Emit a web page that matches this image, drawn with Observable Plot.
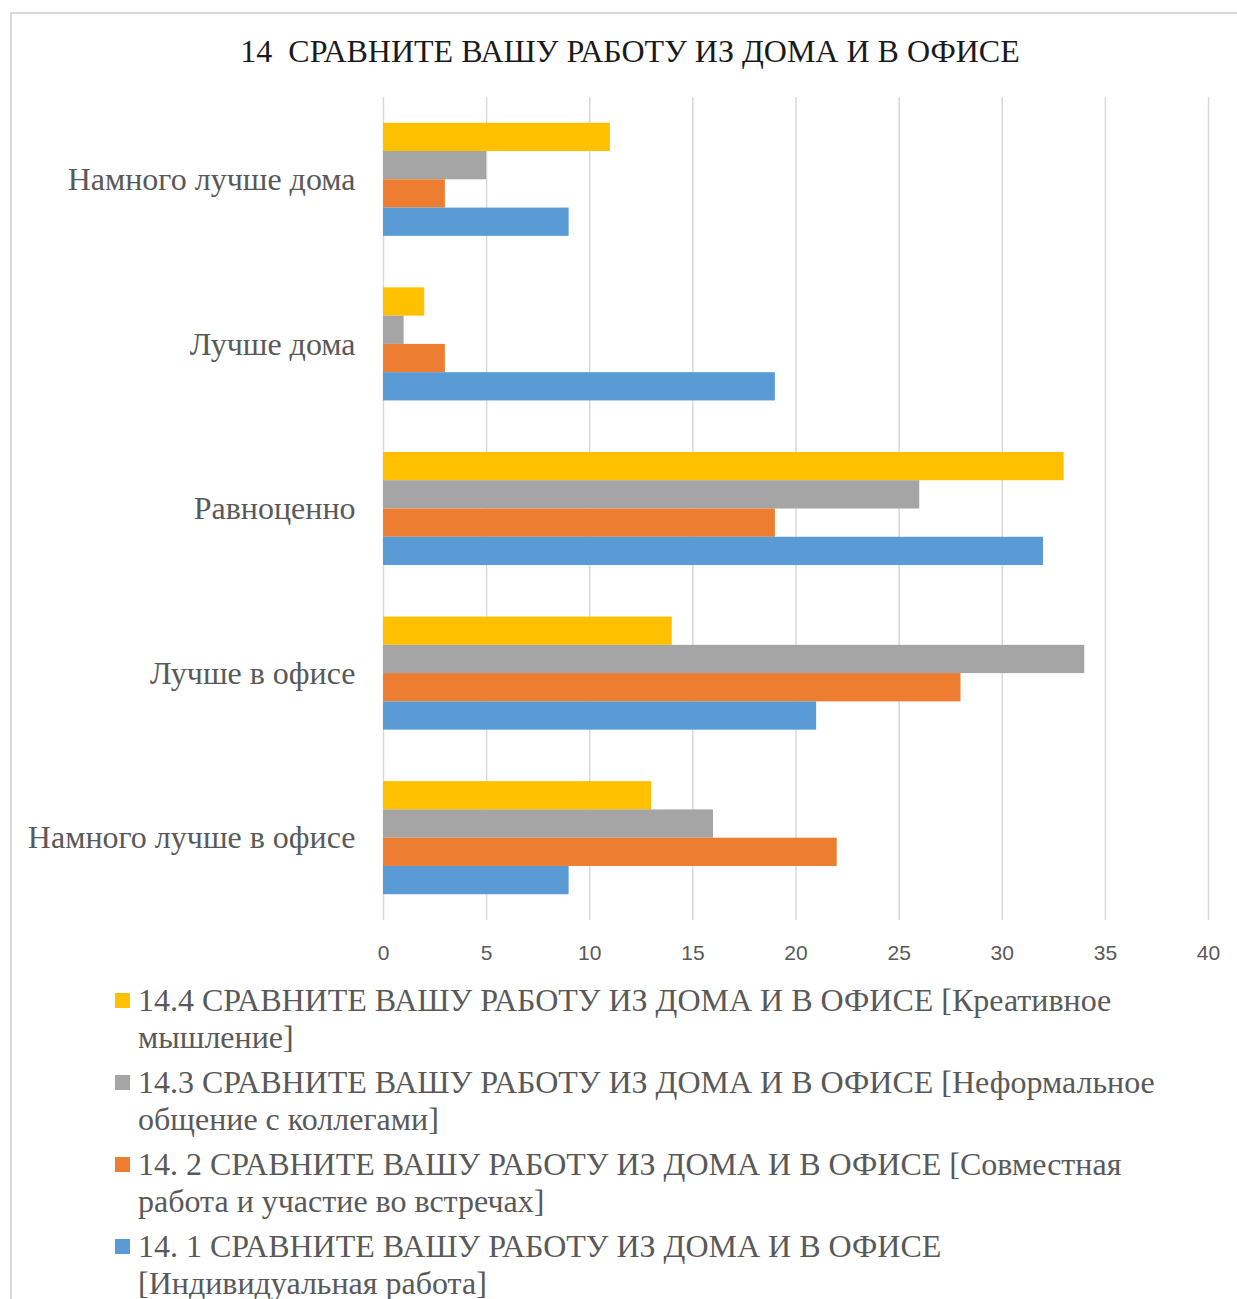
<!DOCTYPE html>
<html><head><meta charset="utf-8">
<script src="https://cdn.jsdelivr.net/npm/d3@7"></script>
<script src="https://cdn.jsdelivr.net/npm/@observablehq/plot@0.6"></script>
<style>
body{margin:0;background:#fff;overflow:hidden;width:1237px;height:1299px;position:relative;}
#frame{position:absolute;left:10px;top:12px;width:1260px;height:1320px;border:2px solid #d9d9d9;box-sizing:border-box;}
#title{position:absolute;left:10px;width:1240px;top:31px;text-align:center;white-space:pre;font-family:"Liberation Serif",serif;font-size:32px;line-height:40px;color:#1a1a1a;}
#chart,#bars{position:absolute;left:0;top:0;}
#legend{position:absolute;left:115px;top:982px;width:1050px;font-family:"Liberation Serif",serif;font-size:32px;color:#595959;line-height:37px;}
.item{position:relative;padding-left:23px;margin-bottom:8px;}
.sw{position:absolute;left:0;top:11px;width:15px;height:15px;}
</style></head>
<body>
<div id="frame"></div>
<div id="title"></div>
<div id="chart"></div>
<div id="bars"></div>
<div id="legend"></div>
<script>
const titleText = "14  СРАВНИТЕ ВАШУ РАБОТУ ИЗ ДОМА И В ОФИСЕ";
const categories = ["Намного лучше дома", "Лучше дома", "Равноценно", "Лучше в офисе", "Намного лучше в офисе"];
const seriesNames = [
  "14.4 СРАВНИТЕ ВАШУ РАБОТУ ИЗ ДОМА И В ОФИСЕ [Креативное мышление]",
  "14.3 СРАВНИТЕ ВАШУ РАБОТУ ИЗ ДОМА И В ОФИСЕ [Неформальное общение с коллегами]",
  "14. 2 СРАВНИТЕ ВАШУ РАБОТУ ИЗ ДОМА И В ОФИСЕ [Совместная работа и участие во встречах]",
  "14. 1 СРАВНИТЕ ВАШУ РАБОТУ ИЗ ДОМА И В ОФИСЕ [Индивидуальная работа]"
];
const seriesColors = ["#FFC000", "#A5A5A5", "#ED7D31", "#5B9BD5"];
const creative = [11, 2, 33, 14, 13];
const informal = [5, 1, 26, 34, 16];
const joint = [3, 3, 19, 28, 22];
const individual = [9, 19, 32, 21, 9];
const xTicks = [0, 5, 10, 15, 20, 25, 30, 35, 40];

const seriesValues = [creative, informal, joint, individual];
const rows = [];
categories.forEach((c, i) => seriesNames.forEach((s, j) => rows.push({cat: c, series: s, value: seriesValues[j][i]})));

document.getElementById("title").textContent = titleText;

const W = 1237, H = 980;
const frame = {width: W, height: H, marginLeft: 383, marginRight: 29, marginTop: 97, marginBottom: 60};
const band = {domain: categories, paddingInner: 0.313, paddingOuter: 0.1565, round: false};

const bg = Plot.plot({
  ...frame,
  style: {background: "transparent", overflow: "visible"},
  x: {domain: [0, 40]},
  y: band,
  marks: [
    Plot.gridX(xTicks, {stroke: "#d9d9d9", strokeOpacity: 1, strokeWidth: 1.5}),
    Plot.axisX(xTicks, {tickSize: 0, tickPadding: 25, fontSize: 21, fill: "#595959", fontFamily: "'Liberation Sans Narrow','Liberation Sans',sans-serif", label: null}),
    Plot.axisY({tickSize: 0, tickPadding: 28, fontSize: 32, fill: "#595959", fontFamily: "'Liberation Serif',serif", label: null})
  ]
});
document.getElementById("chart").appendChild(bg);

const bars = Plot.plot({
  ...frame,
  style: {background: "transparent"},
  x: {domain: [0, 40], axis: null},
  fy: {...band, axis: null, label: null},
  y: {domain: seriesNames, padding: 0, round: false, axis: null},
  color: {domain: seriesNames, range: seriesColors},
  marks: [
    Plot.barX(rows, {fy: "cat", y: "series", x: "value", fill: "series"})
  ]
});
document.getElementById("bars").appendChild(bars);

const legend = d3.select("#legend");
seriesNames.forEach((s, j) => {
  const it = legend.append("div").attr("class", "item");
  it.append("span").attr("class", "sw").style("background", seriesColors[j]);
  it.append("span").text(s);
});
</script>
</body></html>
